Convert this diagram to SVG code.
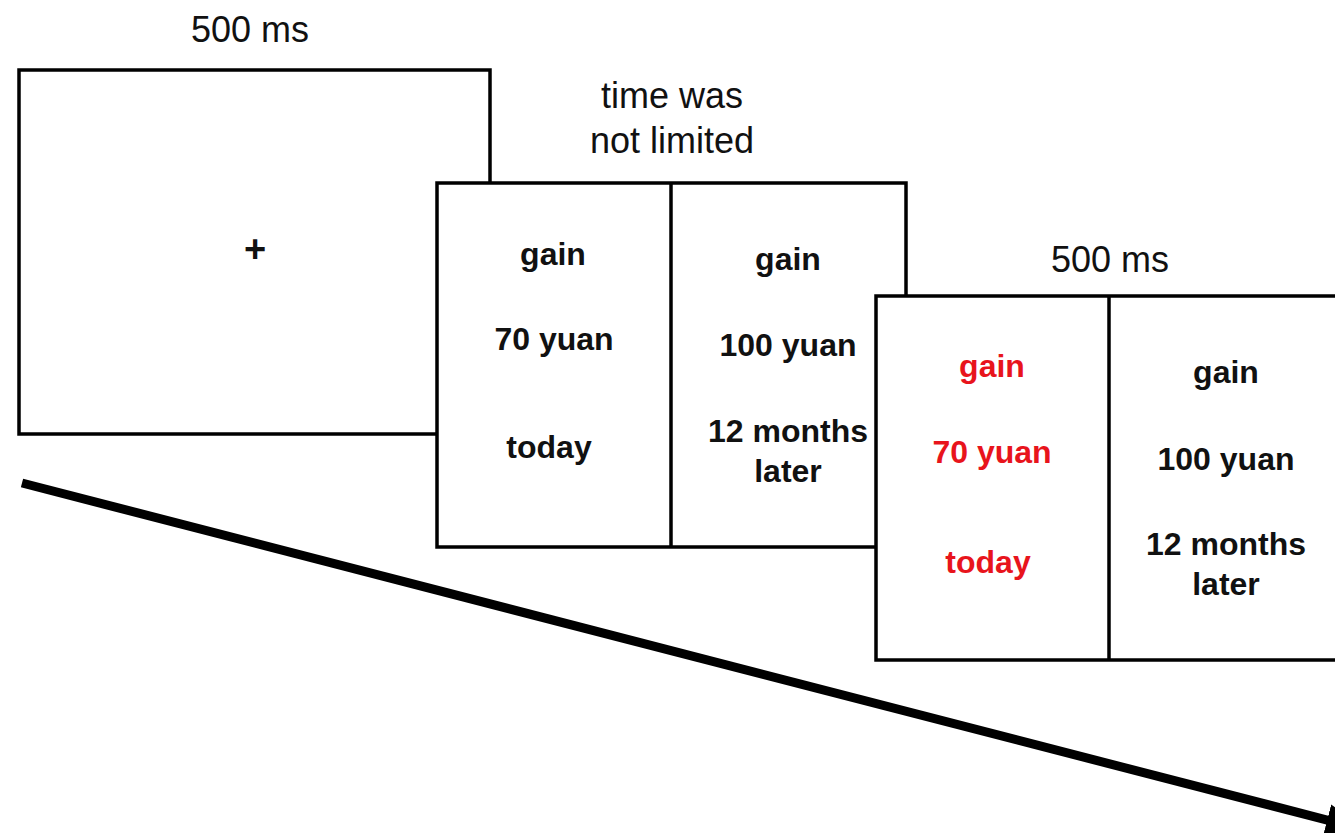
<svg xmlns="http://www.w3.org/2000/svg" width="1335" height="833" viewBox="0 0 1335 833">
<style>
.frame{fill:#fff;stroke:#000;stroke-width:3.5}
.div{stroke:#000;stroke-width:3.5}
.lbl{font-family:"Liberation Sans",Arial,sans-serif;font-size:36px;fill:#111;text-anchor:middle}
.b{font-family:"Liberation Sans",Arial,sans-serif;font-size:32px;font-weight:bold;fill:#111;text-anchor:middle}
.red{fill:#e8141c}
</style>
<defs>
<marker id="ah" markerUnits="userSpaceOnUse" markerWidth="40" markerHeight="40" viewBox="0 0 40 40" refX="36" refY="20" orient="auto">
<path d="M0,4 L40,20 L0,36 Z" fill="#000"/>
</marker>
</defs>
<rect width="1335" height="833" fill="#fff"/>
<g id="connectors">
<line x1="22" y1="483" x2="1362" y2="829" stroke="#000" stroke-width="9" marker-end="url(#ah)"/>
</g>
<g id="fixation">
<rect class="frame" x="19" y="70" width="471" height="364"/>
<text class="b" x="255" y="262" style="font-size:38px">+</text>
<text class="lbl" x="250" y="42">500 ms</text>
</g>
<g id="choice">
<text class="lbl" x="672" y="108">time was</text>
<text class="lbl" x="672" y="153">not limited</text>
<rect class="frame" x="437" y="183" width="469" height="364"/>
<line class="div" x1="671" y1="183" x2="671" y2="547"/>
<text class="b" x="553" y="265">gain</text>
<text class="b" x="554" y="350">70 yuan</text>
<text class="b" x="549" y="458">today</text>
<text class="b" x="788" y="270">gain</text>
<text class="b" x="788" y="356">100 yuan</text>
<text class="b" x="788" y="442">12 months</text>
<text class="b" x="788" y="482">later</text>
</g>
<g id="feedback">
<text class="lbl" x="1110" y="272">500 ms</text>
<rect class="frame" x="876" y="296" width="480" height="364"/>
<line class="div" x1="1109" y1="296" x2="1109" y2="660"/>
<text class="b red" x="992" y="377">gain</text>
<text class="b red" x="992" y="463">70 yuan</text>
<text class="b red" x="988" y="573">today</text>
<text class="b" x="1226" y="383">gain</text>
<text class="b" x="1226" y="470">100 yuan</text>
<text class="b" x="1226" y="555">12 months</text>
<text class="b" x="1226" y="595">later</text>
</g>
</svg>
